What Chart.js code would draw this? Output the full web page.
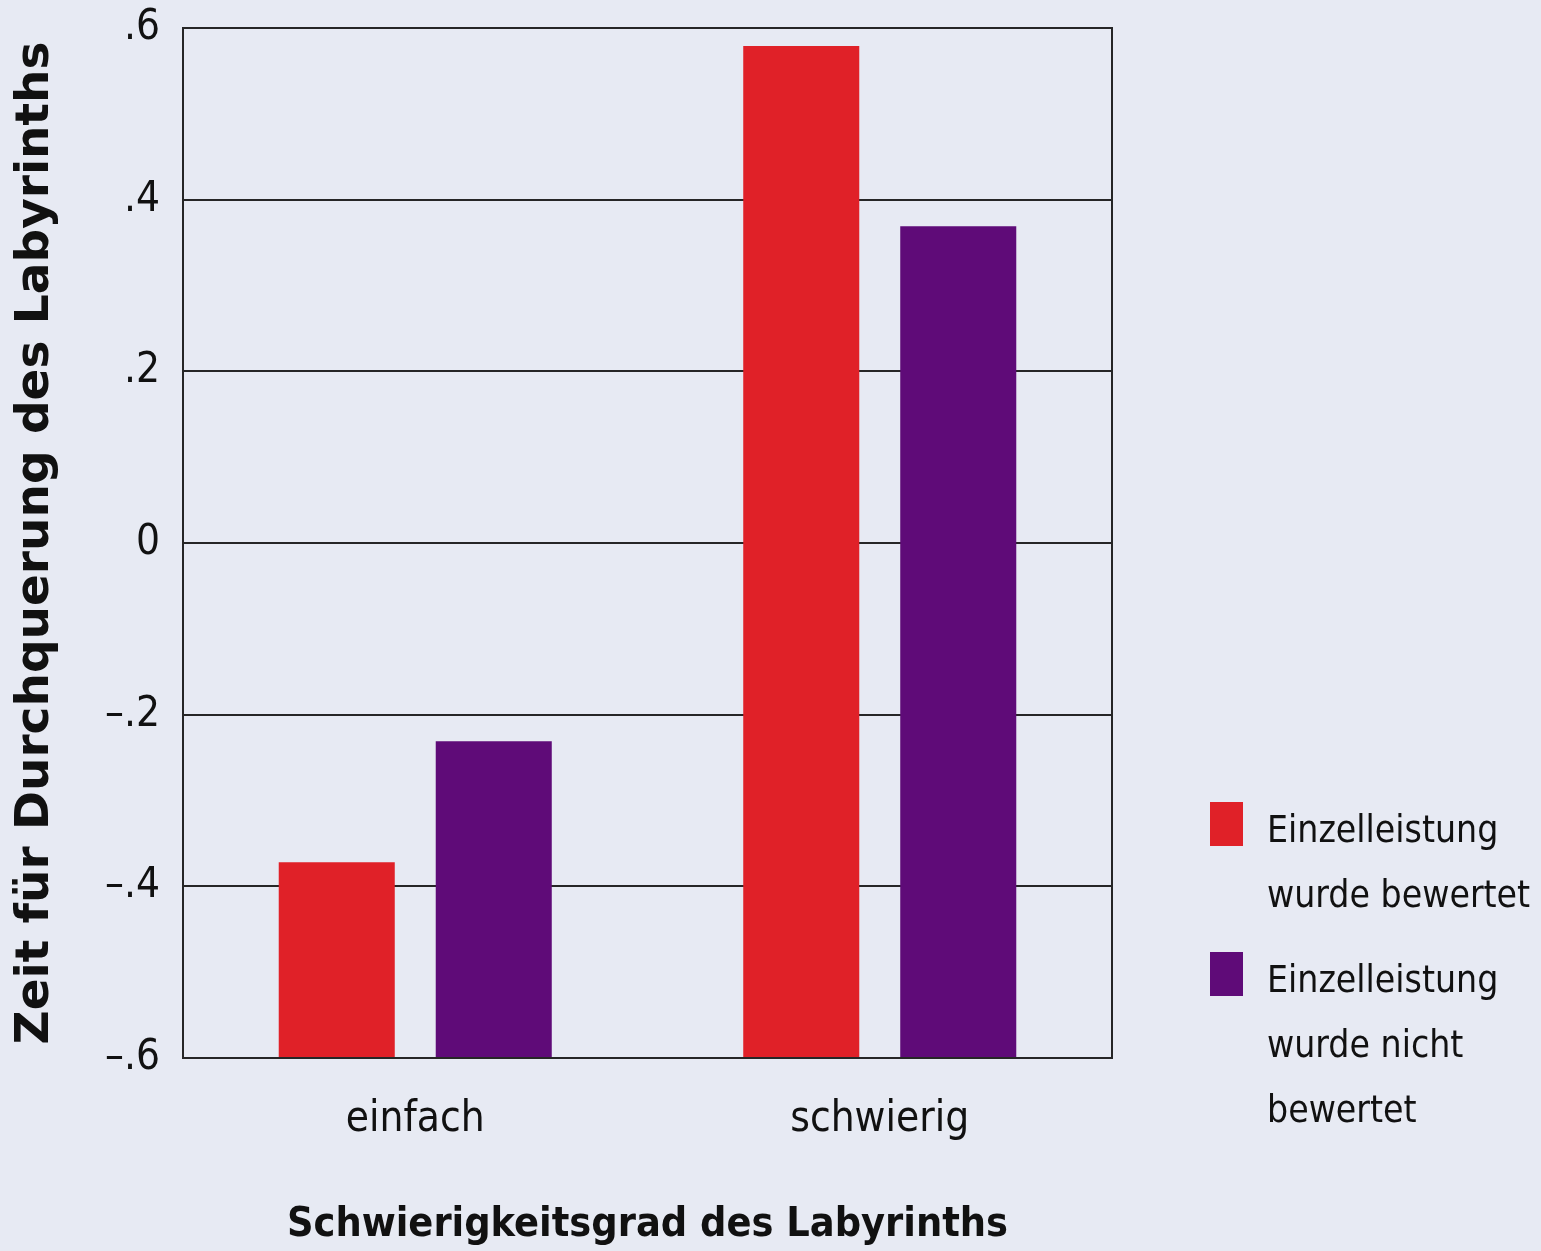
<!DOCTYPE html>
<html>
<head>
<meta charset="utf-8">
<script src="https://cdn.jsdelivr.net/npm/chart.js@4.4.1/dist/chart.umd.min.js"></script>
<style>
  html, body { margin: 0; padding: 0; background: #e7eaf3; }
  #wrap { position: relative; width: 1541px; height: 1251px; }
  #legend { position: absolute; left: 1210px; top: 797px; white-space: nowrap; font-family: "DejaVu Sans Condensed", sans-serif; font-size: 37px; line-height: 65px; color: #111; }
  .item { position: relative; padding-left: 57px; margin-bottom: 20px; }
  .box { position: absolute; left: 0; top: 5px; width: 33px; height: 44px; }
</style>
</head>
<body>
<div id="wrap">
  <canvas id="chart" width="1541" height="1251"></canvas>
  <div id="legend"></div>
</div>
<script>
const categories = ["einfach", "schwierig"];
const bewertet = [-0.372, 0.579];
const nichtBewertet = [-0.231, 0.369];
const seriesLabels = [["Einzelleistung", "wurde bewertet"], ["Einzelleistung", "wurde nicht", "bewertet"]];
const seriesColors = ["#e02128", "#5f0b78"];

function tickText(v) {
    if (Math.abs(v) < 1e-9) return "0";
    return (v < 0 ? "\u2013" : "") + Math.abs(v).toFixed(1).replace(/^0/, "");
}

// frame round the plot area, drawn over the bars
const framePlugin = {
    id: "frame",
    afterDatasetsDraw(chart) {
        const a = chart.chartArea;
        const ctx = chart.ctx;
        ctx.save();
        ctx.strokeStyle = "#262626";
        ctx.lineWidth = 2;
        ctx.strokeRect(a.left, a.top, a.right - a.left, a.bottom - a.top);
        ctx.restore();
    }
};

const chart = new Chart(document.getElementById("chart"), {
    type: "bar",
    data: {
        labels: categories,
        datasets: [
            { label: seriesLabels[0].join(" "), data: bewertet, backgroundColor: seriesColors[0], base: -0.6 },
            { label: seriesLabels[1].join(" "), data: nichtBewertet, backgroundColor: seriesColors[1], base: -0.6 }
        ]
    },
    options: {
        responsive: false,
        animation: false,
        barPercentage: 0.739,
        categoryPercentage: 0.676,
        plugins: { legend: { display: false }, tooltip: { enabled: false } },
        layout: { padding: { top: 28, right: 429, left: 0, bottom: 0 } },
        scales: {
            x: {
                grid: { display: false, drawTicks: false },
                border: { display: false },
                ticks: { color: "#111", padding: 37, font: { family: "DejaVu Sans Condensed", size: 42 } },
                title: { display: true, text: "Schwierigkeitsgrad des Labyrinths", color: "#111",
                    padding: { top: 0, bottom: 1 },
                    font: { family: "DejaVu Sans Condensed", size: 41, weight: "bold" } },
                afterFit(scale) {
                    scale.height = 193;
                    scale.paddingLeft = 0;
                    scale.paddingRight = 0;
                }
            },
            y: {
                min: -0.6,
                max: 0.6,
                grid: { color: "#262626", lineWidth: 2, drawTicks: false },
                border: { display: false },
                ticks: { stepSize: 0.2, color: "#111", padding: 23, callback: tickText,
                    font: { family: "DejaVu Sans Condensed", size: 42 } },
                title: { display: true, text: "Zeit für Durchquerung des Labyrinths", color: "#111",
                    padding: { top: 8, bottom: 0 },
                    font: { family: "DejaVu Sans", size: 47, weight: "bold" } },
                afterFit(scale) {
                    scale.width = 183;
                    scale.paddingTop = 0;
                    scale.paddingBottom = 0;
                }
            }
        }
    },
    plugins: [framePlugin]
});

const legend = document.getElementById("legend");
seriesLabels.forEach((lines, i) => {
    const item = document.createElement("div");
    item.className = "item";
    item.innerHTML = `<span class="box" style="background:${seriesColors[i]}"></span>` + lines.join("<br>");
    legend.appendChild(item);
});
</script>
</body>
</html>
